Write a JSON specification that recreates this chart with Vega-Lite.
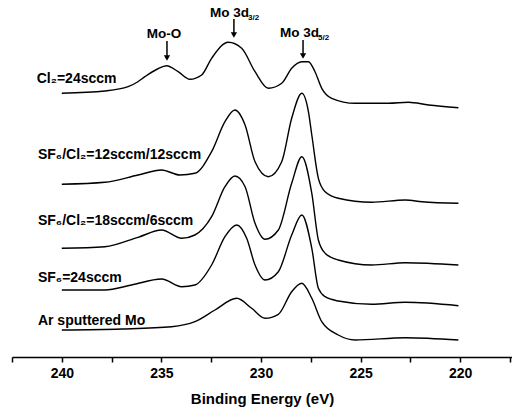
{
  "$schema": "https://vega.github.io/schema/vega-lite/v6.json",
  "width": 500,
  "height": 357,
  "autosize": "none",
  "padding": {"left": 12, "top": 0, "right": 0, "bottom": 61},
  "background": "white",
  "config": {
    "view": {"stroke": null},
    "font": "Liberation Sans",
    "axis": {"domainColor": "black", "tickColor": "black", "labelColor": "black", "titleColor": "black", "grid": false}
  },
  "datasets": {
    "spectra": [
      {"series": "Cl2", "ev": 240.0, "v": 263.7},
      {"series": "Cl2", "ev": 237.84, "v": 266},
      {"series": "Cl2", "ev": 236.67, "v": 270.3},
      {"series": "Cl2", "ev": 236.2, "v": 275},
      {"series": "Cl2", "ev": 235.83, "v": 280.3},
      {"series": "Cl2", "ev": 235.2, "v": 288},
      {"series": "Cl2", "ev": 234.74, "v": 291.3},
      {"series": "Cl2", "ev": 234.16, "v": 285.3},
      {"series": "Cl2", "ev": 233.57, "v": 277.7},
      {"series": "Cl2", "ev": 232.98, "v": 282},
      {"series": "Cl2", "ev": 232.48, "v": 298.7},
      {"series": "Cl2", "ev": 231.64, "v": 314.7},
      {"series": "Cl2", "ev": 230.97, "v": 308.7},
      {"series": "Cl2", "ev": 230.30, "v": 285.3},
      {"series": "Cl2", "ev": 229.63, "v": 268.7},
      {"series": "Cl2", "ev": 228.96, "v": 273.7},
      {"series": "Cl2", "ev": 228.46, "v": 288.7},
      {"series": "Cl2", "ev": 227.95, "v": 295.3},
      {"series": "Cl2", "ev": 227.62, "v": 295.3},
      {"series": "Cl2", "ev": 227.29, "v": 285.3},
      {"series": "Cl2", "ev": 226.95, "v": 268.7},
      {"series": "Cl2", "ev": 226.45, "v": 258.7},
      {"series": "Cl2", "ev": 225.28, "v": 253.7},
      {"series": "Cl2", "ev": 223.60, "v": 253.7},
      {"series": "Cl2", "ev": 222.60, "v": 254.7},
      {"series": "Cl2", "ev": 221.59, "v": 252},
      {"series": "Cl2", "ev": 220.09, "v": 249.3},

      {"series": "SF6Cl2_12", "ev": 240.0, "v": 172.7},
      {"series": "SF6Cl2_12", "ev": 237.84, "v": 174.7},
      {"series": "SF6Cl2_12", "ev": 236.17, "v": 182},
      {"series": "SF6Cl2_12", "ev": 234.99, "v": 187},
      {"series": "SF6Cl2_12", "ev": 234.07, "v": 182},
      {"series": "SF6Cl2_12", "ev": 233.32, "v": 183.7},
      {"series": "SF6Cl2_12", "ev": 232.48, "v": 205.3},
      {"series": "SF6Cl2_12", "ev": 231.81, "v": 235.3},
      {"series": "SF6Cl2_12", "ev": 231.31, "v": 247},
      {"series": "SF6Cl2_12", "ev": 230.80, "v": 232},
      {"series": "SF6Cl2_12", "ev": 230.30, "v": 195.3},
      {"series": "SF6Cl2_12", "ev": 229.63, "v": 180.3},
      {"series": "SF6Cl2_12", "ev": 228.96, "v": 195.3},
      {"series": "SF6Cl2_12", "ev": 228.46, "v": 238.7},
      {"series": "SF6Cl2_12", "ev": 227.95, "v": 263.7},
      {"series": "SF6Cl2_12", "ev": 227.62, "v": 245.3},
      {"series": "SF6Cl2_12", "ev": 227.45, "v": 222},
      {"series": "SF6Cl2_12", "ev": 227.12, "v": 178.7},
      {"series": "SF6Cl2_12", "ev": 226.78, "v": 165.3},
      {"series": "SF6Cl2_12", "ev": 226.12, "v": 158.7},
      {"series": "SF6Cl2_12", "ev": 224.44, "v": 154.7},
      {"series": "SF6Cl2_12", "ev": 222.76, "v": 157},
      {"series": "SF6Cl2_12", "ev": 221.92, "v": 155.3},
      {"series": "SF6Cl2_12", "ev": 220.09, "v": 153.7},

      {"series": "SF6Cl2_18", "ev": 240.0, "v": 108.7},
      {"series": "SF6Cl2_18", "ev": 237.84, "v": 110.3},
      {"series": "SF6Cl2_18", "ev": 236.17, "v": 119.7},
      {"series": "SF6Cl2_18", "ev": 234.99, "v": 127},
      {"series": "SF6Cl2_18", "ev": 233.98, "v": 118.7},
      {"series": "SF6Cl2_18", "ev": 233.32, "v": 122},
      {"series": "SF6Cl2_18", "ev": 232.48, "v": 140.3},
      {"series": "SF6Cl2_18", "ev": 231.81, "v": 170.3},
      {"series": "SF6Cl2_18", "ev": 231.31, "v": 181},
      {"series": "SF6Cl2_18", "ev": 230.80, "v": 170.3},
      {"series": "SF6Cl2_18", "ev": 230.30, "v": 133.7},
      {"series": "SF6Cl2_18", "ev": 229.80, "v": 117.7},
      {"series": "SF6Cl2_18", "ev": 229.13, "v": 127},
      {"series": "SF6Cl2_18", "ev": 228.46, "v": 173.7},
      {"series": "SF6Cl2_18", "ev": 227.95, "v": 200.3},
      {"series": "SF6Cl2_18", "ev": 227.45, "v": 163.7},
      {"series": "SF6Cl2_18", "ev": 227.12, "v": 117},
      {"series": "SF6Cl2_18", "ev": 226.78, "v": 103.7},
      {"series": "SF6Cl2_18", "ev": 226.12, "v": 97},
      {"series": "SF6Cl2_18", "ev": 224.44, "v": 92},
      {"series": "SF6Cl2_18", "ev": 222.76, "v": 94.3},
      {"series": "SF6Cl2_18", "ev": 220.09, "v": 92},

      {"series": "SF6", "ev": 240.0, "v": 67},
      {"series": "SF6", "ev": 237.84, "v": 67},
      {"series": "SF6", "ev": 236.50, "v": 72},
      {"series": "SF6", "ev": 234.99, "v": 78},
      {"series": "SF6", "ev": 233.98, "v": 70.3},
      {"series": "SF6", "ev": 233.32, "v": 72},
      {"series": "SF6", "ev": 232.48, "v": 92},
      {"series": "SF6", "ev": 231.81, "v": 120.3},
      {"series": "SF6", "ev": 231.22, "v": 132},
      {"series": "SF6", "ev": 230.72, "v": 118.7},
      {"series": "SF6", "ev": 230.30, "v": 92},
      {"series": "SF6", "ev": 229.80, "v": 77},
      {"series": "SF6", "ev": 229.13, "v": 85.3},
      {"series": "SF6", "ev": 228.46, "v": 122},
      {"series": "SF6", "ev": 227.95, "v": 142},
      {"series": "SF6", "ev": 227.45, "v": 108.7},
      {"series": "SF6", "ev": 227.12, "v": 68.7},
      {"series": "SF6", "ev": 226.78, "v": 60.3},
      {"series": "SF6", "ev": 226.12, "v": 56},
      {"series": "SF6", "ev": 224.44, "v": 52.7},
      {"series": "SF6", "ev": 222.76, "v": 54.7},
      {"series": "SF6", "ev": 220.09, "v": 51.3},

      {"series": "Ar", "ev": 240.0, "v": 27},
      {"series": "Ar", "ev": 237.0, "v": 28},
      {"series": "Ar", "ev": 234.49, "v": 30.3},
      {"series": "Ar", "ev": 233.32, "v": 35.3},
      {"series": "Ar", "ev": 232.31, "v": 47},
      {"series": "Ar", "ev": 231.22, "v": 58.7},
      {"series": "Ar", "ev": 230.47, "v": 48.7},
      {"series": "Ar", "ev": 229.80, "v": 38.7},
      {"series": "Ar", "ev": 229.13, "v": 42.7},
      {"series": "Ar", "ev": 228.46, "v": 65.3},
      {"series": "Ar", "ev": 227.95, "v": 73.7},
      {"series": "Ar", "ev": 227.45, "v": 58.7},
      {"series": "Ar", "ev": 226.95, "v": 35.3},
      {"series": "Ar", "ev": 226.12, "v": 22},
      {"series": "Ar", "ev": 225.28, "v": 17},
      {"series": "Ar", "ev": 222.76, "v": 19.3},
      {"series": "Ar", "ev": 220.09, "v": 17}
    ],
    "labels": [
      {"label": "Cl₂=24sccm", "ev": 241.26, "v": 274},
      {"label": "SF₆/Cl₂=12sccm/12sccm", "ev": 241.2, "v": 198},
      {"label": "SF₆/Cl₂=18sccm/6sccm", "ev": 241.2, "v": 132},
      {"label": "SF₆=24sccm", "ev": 241.2, "v": 75},
      {"label": "Ar sputtered Mo", "ev": 241.2, "v": 32}
    ],
    "peaks": [
      {"label": "Mo-O", "ev": 235.73, "v": 319},
      {"label": "Mo 3d", "ev": 232.56, "v": 340},
      {"label": "Mo 3d", "ev": 229.05, "v": 320}
    ],
    "subs": [
      {"label": "3/2", "ev": 230.65, "v": 337},
      {"label": "5/2", "ev": 227.14, "v": 317}
    ],
    "arrows": [
      {"ev": 234.72, "top": 316, "bottom": 300, "head": 299},
      {"ev": 231.36, "top": 338, "bottom": 323, "head": 322},
      {"ev": 227.89, "top": 317, "bottom": 302, "head": 301}
    ]
  },
  "encoding": {
    "x": {
      "field": "ev", "type": "quantitative",
      "scale": {"domain": [217.4, 242.5], "reverse": true, "nice": false, "zero": false},
      "axis": {
        "title": "Binding Energy (eV)",
        "values": [242.5, 240, 237.5, 235, 232.5, 230, 227.5, 225, 222.5, 220, 217.5],
        "labelExpr": "datum.value % 5 === 0 ? datum.label : ''",
        "labelFontSize": 14, "labelFontWeight": "bold",
        "titleFontSize": 15, "titleFontWeight": "bold",
        "tickSize": 5, "tickWidth": 1.5, "domainWidth": 1.5,
        "labelPadding": 4, "titlePadding": 11, "labelFlush": false
      }
    },
    "y": {"field": "v", "type": "quantitative", "scale": {"domain": [0, 357], "nice": false, "zero": false}, "axis": null}
  },
  "layer": [
    {
      "data": {"name": "spectra"},
      "mark": {"type": "line", "color": "black", "strokeWidth": 1.4, "interpolate": "monotone"},
      "encoding": {"detail": {"field": "series"}}
    },
    {
      "data": {"name": "labels"},
      "mark": {"type": "text", "align": "left", "baseline": "alphabetic", "fontSize": 14, "fontWeight": "bold", "color": "black"},
      "encoding": {"text": {"field": "label"}}
    },
    {
      "data": {"name": "peaks"},
      "mark": {"type": "text", "align": "left", "baseline": "alphabetic", "fontSize": 13.5, "fontWeight": "bold", "color": "black"},
      "encoding": {"text": {"field": "label"}}
    },
    {
      "data": {"name": "subs"},
      "mark": {"type": "text", "align": "left", "baseline": "alphabetic", "fontSize": 8, "fontWeight": "bold", "color": "black"},
      "encoding": {"text": {"field": "label"}}
    },
    {
      "data": {"name": "arrows"},
      "mark": {"type": "rule", "color": "black", "strokeWidth": 1.5},
      "encoding": {"y": {"field": "top", "type": "quantitative"}, "y2": {"field": "bottom"}}
    },
    {
      "data": {"name": "arrows"},
      "mark": {"type": "point", "shape": "triangle-down", "filled": true, "color": "black", "size": 40, "opacity": 1},
      "encoding": {"y": {"field": "head", "type": "quantitative"}}
    }
  ]
}
